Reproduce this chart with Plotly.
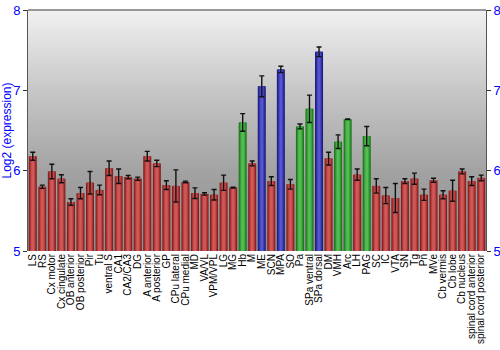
import plotly.graph_objects as go
import numpy as np

regions = ["LS", "RS", "Cx motor", "Cx cingulate", "OB anterior", "OB posterior", "Pir", "Tu",
           "ventral S", "CA1", "CA2/CA3", "DG", "A anterior", "A posterior", "GP", "CPu lateral",
           "CPu medial", "MD", "VA/VL", "VPM/VPL", "LG", "MG", "Hb", "M", "ME", "SCN", "MPA", "SO",
           "Pa", "SPa ventral", "SPa dorsal", "DM", "VMH", "Arc", "LH", "PAG", "SC", "IC", "VTA",
           "SN", "Tg", "Pn", "MVe", "Cb vermis", "Cb lobe", "Cb nucleus", "spinal cord anterior",
           "spinal cord posterior"]

expression = [6.18, 5.80, 5.99, 5.90, 5.61, 5.72, 5.85, 5.76,
              6.03, 5.93, 5.92, 5.90, 6.18, 6.09, 5.82, 5.81,
              5.86, 5.72, 5.71, 5.70, 5.85, 5.79, 6.60, 6.09, 7.05, 5.87, 7.26, 5.83,
              6.55, 6.77, 7.48, 6.15, 6.36, 6.64, 5.95, 6.43, 5.81, 5.69, 5.66,
              5.87, 5.90, 5.70, 5.88, 5.70, 5.75, 5.99, 5.87,
              5.91]

errors = [0.05, 0.02, 0.09, 0.05, 0.04, 0.07, 0.14, 0.06,
          0.09, 0.09, 0.02, 0.02, 0.06, 0.04, 0.055, 0.20,
          0.01, 0.066, 0.015, 0.066, 0.095, 0.005, 0.11, 0.03, 0.13, 0.055, 0.04, 0.06,
          0.03, 0.17, 0.06, 0.08, 0.085, 0.005, 0.07, 0.12, 0.09, 0.10, 0.18,
          0.03, 0.07, 0.07, 0.025, 0.05, 0.13, 0.03, 0.055,
          0.035]

groups = ["r"] * 22 + ["g", "r", "b", "r", "b", "r", "g", "g", "b", "r", "g", "g", "r", "g"] + ["r"] * 12

palette = {
    "r": ["#7e1c1c", "#a53030", "#c44646", "#cf5858"],
    "g": ["#1c701c", "#2c922c", "#40ad40", "#56bb56"],
    "b": ["#1c1c7a", "#2c2ca0", "#4040bc", "#5656c8"],
}

x = list(range(len(regions)))
fig = go.Figure()

# background gradient
ys = np.linspace(5, 8, 61)
zbg = [[v, v] for v in ys]
fig.add_trace(go.Heatmap(
    x=[-0.5, len(regions) - 0.5], y=ys, z=zbg, zsmooth="best", showscale=False, hoverinfo="skip",
    colorscale=[[0, "#8e8e8e"], [0.33, "#a2a2a2"], [0.66, "#c6c6c6"], [1, "#f1f1f1"]],
    zmin=5, zmax=8))

widths = [0.84, 0.66, 0.46, 0.26]
base = 5
for li, w in enumerate(widths):
    cols = [palette[g][li] for g in groups]
    last = li == len(widths) - 1
    fig.add_trace(go.Bar(
        x=x, y=[v - base for v in expression], base=base, width=w,
        marker=dict(color=cols, line=dict(width=0)),
        error_y=dict(type="data", array=errors, color="#111111", thickness=1.4, width=2.5, visible=last),
        showlegend=False, hoverinfo="skip" if not last else None))

# dummy trace for right axis
fig.add_trace(go.Scatter(x=[0], y=[5], yaxis="y2", mode="markers", marker=dict(opacity=0),
                         showlegend=False, hoverinfo="skip"))

fig.update_layout(
    width=500, height=350, margin=dict(l=28, r=14, t=10, b=99),
    paper_bgcolor="white", plot_bgcolor="#a0a0a0", barmode="overlay",
    font=dict(family="Liberation Sans, Arial, sans-serif"),
    xaxis=dict(range=[-0.5, len(regions) - 0.5], tickmode="array", tickvals=x, ticktext=regions,
               tickangle=-90, tickfont=dict(size=10, color="black"), showgrid=False,
               zeroline=False, showline=False, ticks="", ticklen=0, automargin=False),
    yaxis=dict(range=[5, 8], tickvals=[5, 6, 7, 8], tickfont=dict(size=13, color="blue"),
               showgrid=True, gridcolor="white", gridwidth=1.5, zeroline=False,
               showline=True, linecolor="#555555", linewidth=1, ticks="outside", ticklen=4,
               tickcolor="#333333", automargin=False,
               title=dict(text="Log2 (expression)", font=dict(size=12, color="blue"), standoff=2)),
    yaxis2=dict(range=[5, 8], tickvals=[5, 6, 7, 8], overlaying="y", side="right",
                tickfont=dict(size=13, color="blue"), showgrid=False, zeroline=False,
                showline=True, linecolor="#555555", linewidth=1, ticks="outside", ticklen=4,
                tickcolor="#333333", automargin=False),
    shapes=[dict(type="line", xref="paper", yref="paper", x0=0, x1=1, y0=1, y1=1,
                 line=dict(color="#777777", width=1.5))],
)

fig.write_html("out.html")
